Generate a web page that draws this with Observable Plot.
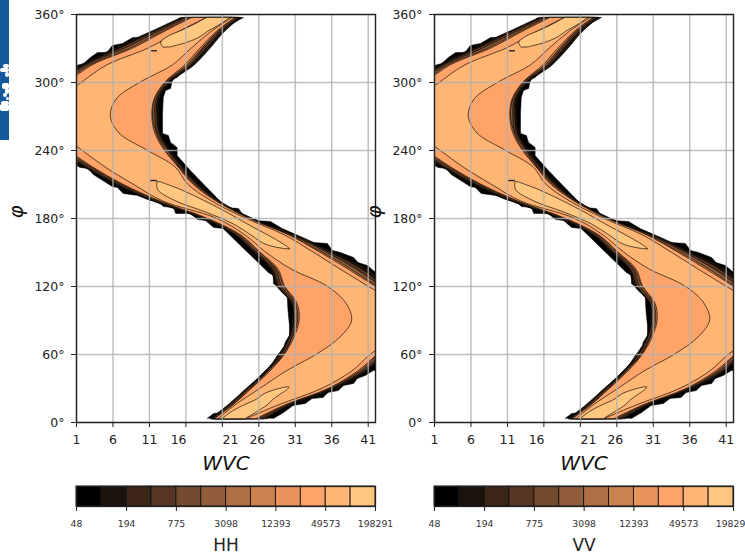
<!DOCTYPE html>
<html><head><meta charset="utf-8">
<script src="https://cdn.jsdelivr.net/npm/d3@7"></script>
<script src="https://cdn.jsdelivr.net/npm/@observablehq/plot@0.6"></script>
<style>
html,body{margin:0;padding:0;background:#fff;overflow:hidden;width:745px;height:556px}
#wrap{position:relative;width:745px;height:556px;overflow:hidden;font-family:"DejaVu Sans",sans-serif}
#wrap svg{position:absolute;overflow:visible;background:transparent}
#badge{position:absolute;left:0;top:0;width:9px;height:140px;background:#155a9e}
#badge i{position:absolute;background:#fff;border-radius:2px}
</style></head><body>
<div id="wrap"><div id="badge"></div></div>
<script>
// ---------- axis labels ----------
const xTicks=[1,6,11,16,21,26,31,36,41];
const xTickLabels=["1","6","11","16","21","26","31","36","41"];
const xLabelAt=[1,6,11,15,22.1,25.8,31,36,41];
const yTicks=[0,60,120,180,240,300,360];
const yTickLabels=["0°","60°","120°","180°","240°","300°","360°"];
// ---------- colour bar ----------
const levels=[48,96,194,387,775,1549,3098,6196,12393,24786,49573,99146,198291];
const colorTicks=[48,194,775,3098,12393,49573,198291];
const copper=["#000000","#1d120c","#3a2517","#573723","#744a2e","#915d3a","#ae6f45","#cb8251","#e8945c","#ffa368","#ffb573","#ffc77f"];
// ---------- outermost (black) contour, walked as a ring ----------
const ringWvc=[18.9,19.8,21.0,21.8,24.4,25.8,28.0,28.7,29.4,29.6,30.2,30.2,30.0,29.9,28.7,28.0,28.0,27.3,21.1,19.8,18.7,17.6,16.6,14.6,14.3,12.9,12.1,11.1,9.4,7.4,6.6,5.9,4.6,3.3,2.6,1.5,1.0,-1.2,-1.2,1.0,2.0,2.9,3.9,5.2,5.9,7.3,8.7,10.2,10.9,12.5,14.3,15.0,16.6,23.9,22.4,18.7,17.7,15.9,14.8,14.2,13.9,13.2,12.9,12.8,12.8,13.6,13.9,14.8,14.8,16.6,21.0,21.7,23.2,23.9,25.5,27.6,29.2,30.7,31.4,33.5,35.4,36.1,37.2,39.0,39.6,40.9,42.0,44.0,44.0,41.7,40.6,39.5,39.0,37.6,36.9,35.5,34.8,33.3,32.4,30.7,29.4,28.0];
const ringPhi=[3.5,7.9,8.8,13.2,30.0,38.8,52.9,60.9,61.8,70.6,76.8,85.6,98.8,110.3,119.1,122.7,129.7,132.4,171.2,172.1,178.2,179.1,184.4,184.4,189.7,190.6,195.9,195.9,200.3,202.1,207.4,208.2,213.5,218.8,224.1,225.0,226.8,231.2,310.6,315.0,316.8,322.1,326.5,326.5,332.7,334.4,339.7,339.7,344.1,345.9,352.1,356.5,357.4,357.4,352.1,330.0,322.1,313.3,304.4,303.5,294.7,293.0,286.8,272.7,255.0,253.3,247.1,242.7,235.6,222.4,193.2,189.7,188.8,182.7,178.2,177.4,171.2,166.8,160.6,158.8,158.0,151.8,150.0,145.6,141.2,138.5,132.4,132.4,45.9,45.9,41.5,38.8,34.4,32.6,28.2,26.5,22.1,21.2,16.8,15.0,8.8,3.5];
// ---------- inner contour edges: WVC at each azimuth ----------
const phiRows=[3,15,30,45,60,75,90,105,120,135,150,165,180,195,210,225,240,255,270,285,300,315,330,345,357];
const r2L=[19.4,21.8,24.4,27.0,28.8,30.2,30.6,30.5,28.5,27.6,25.2,22.8,18.0,11.5,6.2,2.1,-1.9,-4.8,-6.1,-4.8,-1.9,1.7,6.3,11.4,15.4];
const r2R=[27.2,30.6,36.8,41.0,43.5,47.4,49.9,47.4,43.9,41.0,36.3,31.3,25.1,20.7,17.9,15.8,14.0,12.6,12.4,12.5,14.0,17.2,19.4,21.4,23.6];
const r4L=[19.6,22.0,24.6,27.2,29.1,30.3,30.9,30.6,28.8,27.9,25.5,22.9,18.3,11.8,6.5,2.4,-1.3,-4.3,-5.7,-4.3,-1.3,2.1,7.0,11.8,15.8];
const r4R=[26.8,30.3,36.3,40.6,43.2,46.9,49.4,46.9,43.3,40.2,35.8,30.9,25.0,20.6,17.6,15.5,13.7,12.4,12.1,12.2,13.7,16.8,18.9,21.0,23.3];
const r6L=[19.8,22.2,24.8,27.3,29.4,30.6,31.1,30.9,29.2,28.3,25.8,23.2,18.5,12.1,6.9,2.8,-0.8,-3.9,-5.3,-3.9,-0.8,2.5,7.7,12.4,16.2];
const r6R=[26.3,30.0,36.1,40.2,42.9,46.3,48.8,46.3,42.8,39.4,35.3,30.6,24.8,20.5,17.4,15.2,13.5,12.1,11.8,12.0,13.5,16.5,18.5,20.7,23.1];
const r8L=[19.9,22.4,25.0,27.4,29.5,30.7,31.4,31.1,29.5,28.5,26.1,23.5,18.8,12.4,7.2,3.1,-0.4,-3.5,-4.9,-3.5,-0.4,2.9,8.4,12.9,16.6];
const r8R=[25.9,29.8,35.8,39.9,42.5,45.9,48.3,45.9,42.2,38.7,34.7,30.3,24.7,20.3,17.2,15.1,13.2,12.0,11.5,11.8,13.3,16.2,18.3,20.5,22.9];
const r9L=[20.0,22.5,25.1,27.6,29.6,30.9,31.6,31.3,29.6,28.7,26.2,23.6,18.9,12.5,7.4,3.3,-0.1,-3.2,-4.6,-3.2,-0.1,3.2,8.8,13.2,16.9];
const r9R=[25.7,29.6,35.7,39.6,42.4,45.7,47.9,45.7,42.0,38.3,34.4,30.2,24.6,20.2,17.0,15.0,13.1,11.8,11.4,11.7,13.2,15.9,18.0,20.3,22.8];
const r10L=[20.5,22.8,26.3,29.8,34.0,37.2,38.8,38.0,35.4,30.5,27.0,24.2,20.2,12.9,8.8,5.0,1.8,-1.2,-2.6,-1.2,1.8,5.2,10.9,15.2,18.9];
const r10R=[24.3,28.7,34.8,38.8,41.4,44.7,46.8,44.7,41.0,37.2,33.5,29.6,24.2,19.6,16.3,14.6,10.7,6.9,5.7,6.5,9.8,14.2,16.8,19.6,22.4];
// lightest ridge lobes
const lobeAPhi=[331,335,340,345,350,357];
const lobeAL=[12.9,12.6,13.5,15.2,16.9,18.9];
const lobeAR=[13.9,16.2,18.0,19.1,20.5,22.1];
const lobeBPhi=[153,155,158,165,175,185,195,205,212];
const lobeBL=[29.6,27.9,26.6,25.0,22.5,18.9,14.7,12.2,12.1];
const lobeBR=[30.3,29.9,29.2,27.3,24.4,21.7,18.7,15.4,12.5];
const lobeCPhi=[3,10,15,20,25,29,31];
const lobeCL=[21.0,22.5,24.0,25.7,26.8,28.5,29.8];
const lobeCR=[24.2,26.0,27.2,28.0,29.1,30.0,30.2];
const dashPhi=[328,213.5];
const dashL=[11.3,11.2];
const dashR=[12.1,12.1];

const rows=(phi,l,r)=>phi.map((p,i)=>({p,l:l[i],r:r[i]}));
const band=(phi,l,r,fill,curve)=>Plot.areaX(rows(phi,l,r),{x1:"l",x2:"r",y:"p",fill,stroke:"#000",strokeWidth:0.8,strokeOpacity:0.8,curve,clip:true});
const wrap=document.getElementById("wrap");

function panel(left){
  const p=Plot.plot({
    width:385,height:460,marginLeft:76,marginRight:10,marginTop:14,marginBottom:38,
    style:{background:"transparent",fontFamily:"DejaVu Sans",overflow:"visible"},
    x:{domain:[1,42],axis:null},
    y:{domain:[0,360],axis:null},
    marks:[
      Plot.line(ringWvc.map((w,i)=>({w,p:ringPhi[i]})),{x:"w",y:"p",fill:copper[0],stroke:"#000",strokeWidth:0.5,clip:true}),
      band(phiRows,r2L,r2R,copper[1],"catmull-rom"),
      band(phiRows,r4L,r4R,copper[3],"catmull-rom"),
      band(phiRows,r6L,r6R,copper[5],"catmull-rom"),
      band(phiRows,r8L,r8R,copper[7],"catmull-rom"),
      band(phiRows,r9L,r9R,copper[9],"catmull-rom"),
      band(phiRows,r10L,r10R,copper[10],"catmull-rom"),
      band(lobeAPhi,lobeAL,lobeAR,copper[11],"catmull-rom"),
      band(lobeBPhi,lobeBL,lobeBR,copper[11],"catmull-rom"),
      band(lobeCPhi,lobeCL,lobeCR,copper[11],"catmull-rom"),
      Plot.ruleY(dashPhi.map((p,i)=>({p,l:dashL[i],r:dashR[i]})),{y:"p",x1:"l",x2:"r",stroke:"#222",strokeWidth:1.4}),
      Plot.gridX(xTicks,{stroke:"#b0b0b0",strokeOpacity:0.8,strokeWidth:1.5}),
      Plot.gridY(yTicks,{stroke:"#b0b0b0",strokeOpacity:0.8,strokeWidth:1.5}),
      Plot.frame({stroke:"#222",strokeWidth:1.4}),
      Plot.axisX(xTicks,{anchor:"bottom",tickSize:5,tickPadding:0,tickFormat:()=>"",label:null,stroke:"#222"}),
      Plot.axisY(yTicks,{anchor:"left",tickSize:5,tickPadding:7,label:null,stroke:"#222",fontSize:12.5,fill:"#222",tickFormat:d=>yTickLabels[yTicks.indexOf(d)]}),
      Plot.text(xLabelAt,{x:d=>d,text:(d,i)=>xTickLabels[i],frameAnchor:"bottom",lineAnchor:"top",dy:12.5,fontSize:12.5,fill:"#222"}),
      Plot.text(["WVC"],{frameAnchor:"bottom",lineAnchor:"top",dy:33,fontSize:20,fontStyle:"italic",fill:"#111"}),
      Plot.text(["φ"],{frameAnchor:"left",dx:-60,rotate:-90,fontSize:20,fontStyle:"italic",fill:"#111"})
    ]
  });
  p.style.left=left+"px";p.style.top="0px";
  wrap.appendChild(p);
}
function colorbar(left,name){
  const cells=copper.map((c,i)=>({a:levels[i],b:levels[i+1],c}));
  const p=Plot.plot({
    width:385,height:76,marginLeft:76,marginRight:10,marginTop:6,marginBottom:50,
    style:{background:"transparent",fontFamily:"DejaVu Sans",overflow:"visible"},
    x:{type:"log",domain:[48,198291],axis:null},
    marks:[
      Plot.rect(cells,{x1:"a",x2:"b",fill:"c",stroke:"#111",strokeWidth:0.9}),
      Plot.frame({stroke:"#222",strokeWidth:1.3}),
      Plot.axisX(colorTicks,{anchor:"bottom",tickSize:5,tickPadding:0,tickFormat:()=>"",label:null,stroke:"#222"}),
      Plot.text(colorTicks,{x:d=>d,text:d=>String(d),frameAnchor:"bottom",lineAnchor:"top",dy:13.5,fontSize:9.3,fill:"#333"}),
      Plot.text([name],{frameAnchor:"bottom",lineAnchor:"top",dy:32,fontSize:17,fill:"#222"})
    ]
  });
  p.style.left=left+"px";p.style.top="480px";
  wrap.appendChild(p);
}
panel(0);panel(358);
colorbar(0,"HH");colorbar(358,"VV");
// corner badge fragment
const badge=document.getElementById("badge");
[[3,64,6,4],[0,68,9,4],[5,72,4,5],[2,83,7,6],[5,88,4,6],[3,93,4,4],[6,97,3,3],[1,101,8,4],[0,104,9,7]].forEach(([l,t,w,h])=>{
  const s=document.createElement("i");s.style.cssText=`left:${l}px;top:${t}px;width:${w}px;height:${h}px`;badge.appendChild(s);
});
</script>
</body></html>
